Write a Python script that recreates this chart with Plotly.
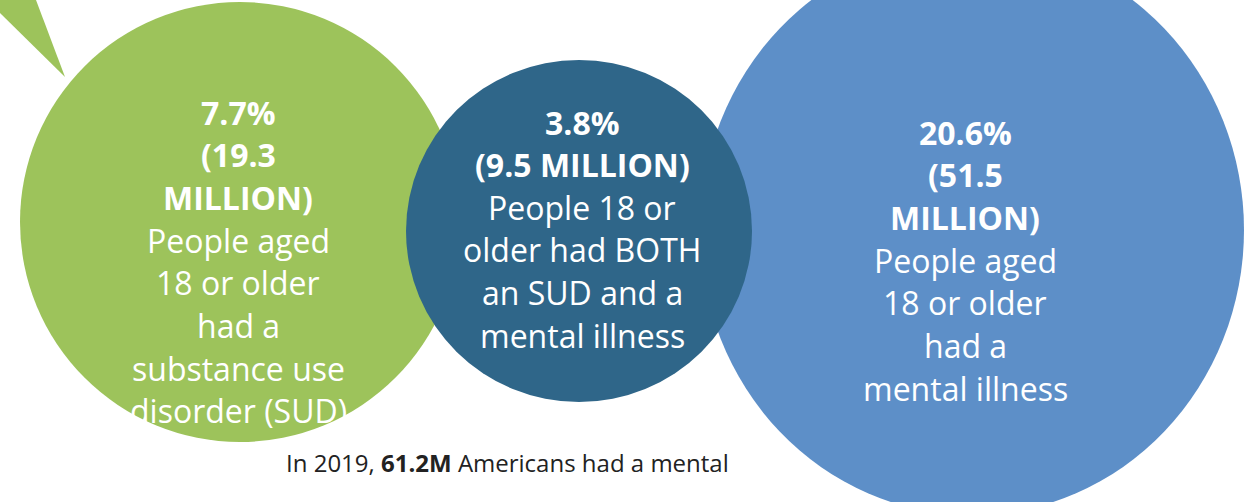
import plotly.graph_objects as go

# Values shown in each bubble
groups = ["sud", "both", "mental"]
percents = [7.7, 3.8, 20.6]
millions = [19.3, 9.5, 51.5]
descriptions = [
    ["People aged", "18 or older", "had a", "substance use", "disorder (SUD)"],
    ["People 18 or", "older had BOTH", "an SUD and a", "mental illness"],
    ["People aged", "18 or older", "had a", "mental illness"],
]
total_year = 2019
total_millions = 61.2

W, H = 1253, 502

# Bubble geometry in pixel space: (cx, cy, rx, ry, fill)
bubbles = {
    "sud": (240, 222, 220, 220, "#9dc35b"),
    "mental": (972, 230, 272, 285, "#5d8fc8"),
    "both": (579, 231, 173, 171, "#2f6689"),
}
# text block placement: (center x, first line y, line step)
text_pos = {
    "sud": (238, 112, 42.7),
    "both": (582, 122, 42.6),
    "mental": (965, 132, 42.7),
}

fig = go.Figure()
shapes = []
# callout tail at the top-left corner
shapes.append(dict(type="path", path="M 0 0 L 36 0 L 65 77 L 0 13 Z",
                   fillcolor="#9dc35b", line=dict(width=0), layer="below"))
for key in ["sud", "mental", "both"]:
    cx, cy, rx, ry, col = bubbles[key]
    shapes.append(dict(type="circle", xref="x", yref="y",
                       x0=cx - rx, x1=cx + rx, y0=cy - ry, y1=cy + ry,
                       fillcolor=col, line=dict(width=0), layer="below"))

annotations = []
FONT = "Open Sans, Noto Sans, sans-serif"
for i, key in enumerate(groups):
    pct, mil = percents[i], millions[i]
    if key == "both":
        head = [f"{pct}%", f"({mil} MILLION)"]
    else:
        head = [f"{pct}%", f"({mil}", "MILLION)"]
    lines = [f"<b>{h}</b>" for h in head] + descriptions[i]
    x, y0, step = text_pos[key]
    for j, ln in enumerate(lines):
        annotations.append(dict(x=x, y=y0 + j * step, xref="x", yref="y",
                                text=ln, showarrow=False,
                                font=dict(family=FONT, size=32, color="white"),
                                xanchor="center", yanchor="middle"))

annotations.append(dict(x=507, y=462, xref="x", yref="y",
                        text=f"In {total_year}, <b>{total_millions}M</b> Americans had a mental",
                        showarrow=False,
                        font=dict(family=FONT, size=24, color="#222222"),
                        xanchor="center", yanchor="middle"))

fig.update_layout(
    width=W, height=H, margin=dict(l=0, r=0, t=0, b=0),
    paper_bgcolor="white", plot_bgcolor="white",
    xaxis=dict(range=[0, W], visible=False, fixedrange=True),
    yaxis=dict(range=[H, 0], visible=False, fixedrange=True),
    shapes=shapes, annotations=annotations, showlegend=False,
)
fig.write_html("out.html", config={"displayModeBar": False})
